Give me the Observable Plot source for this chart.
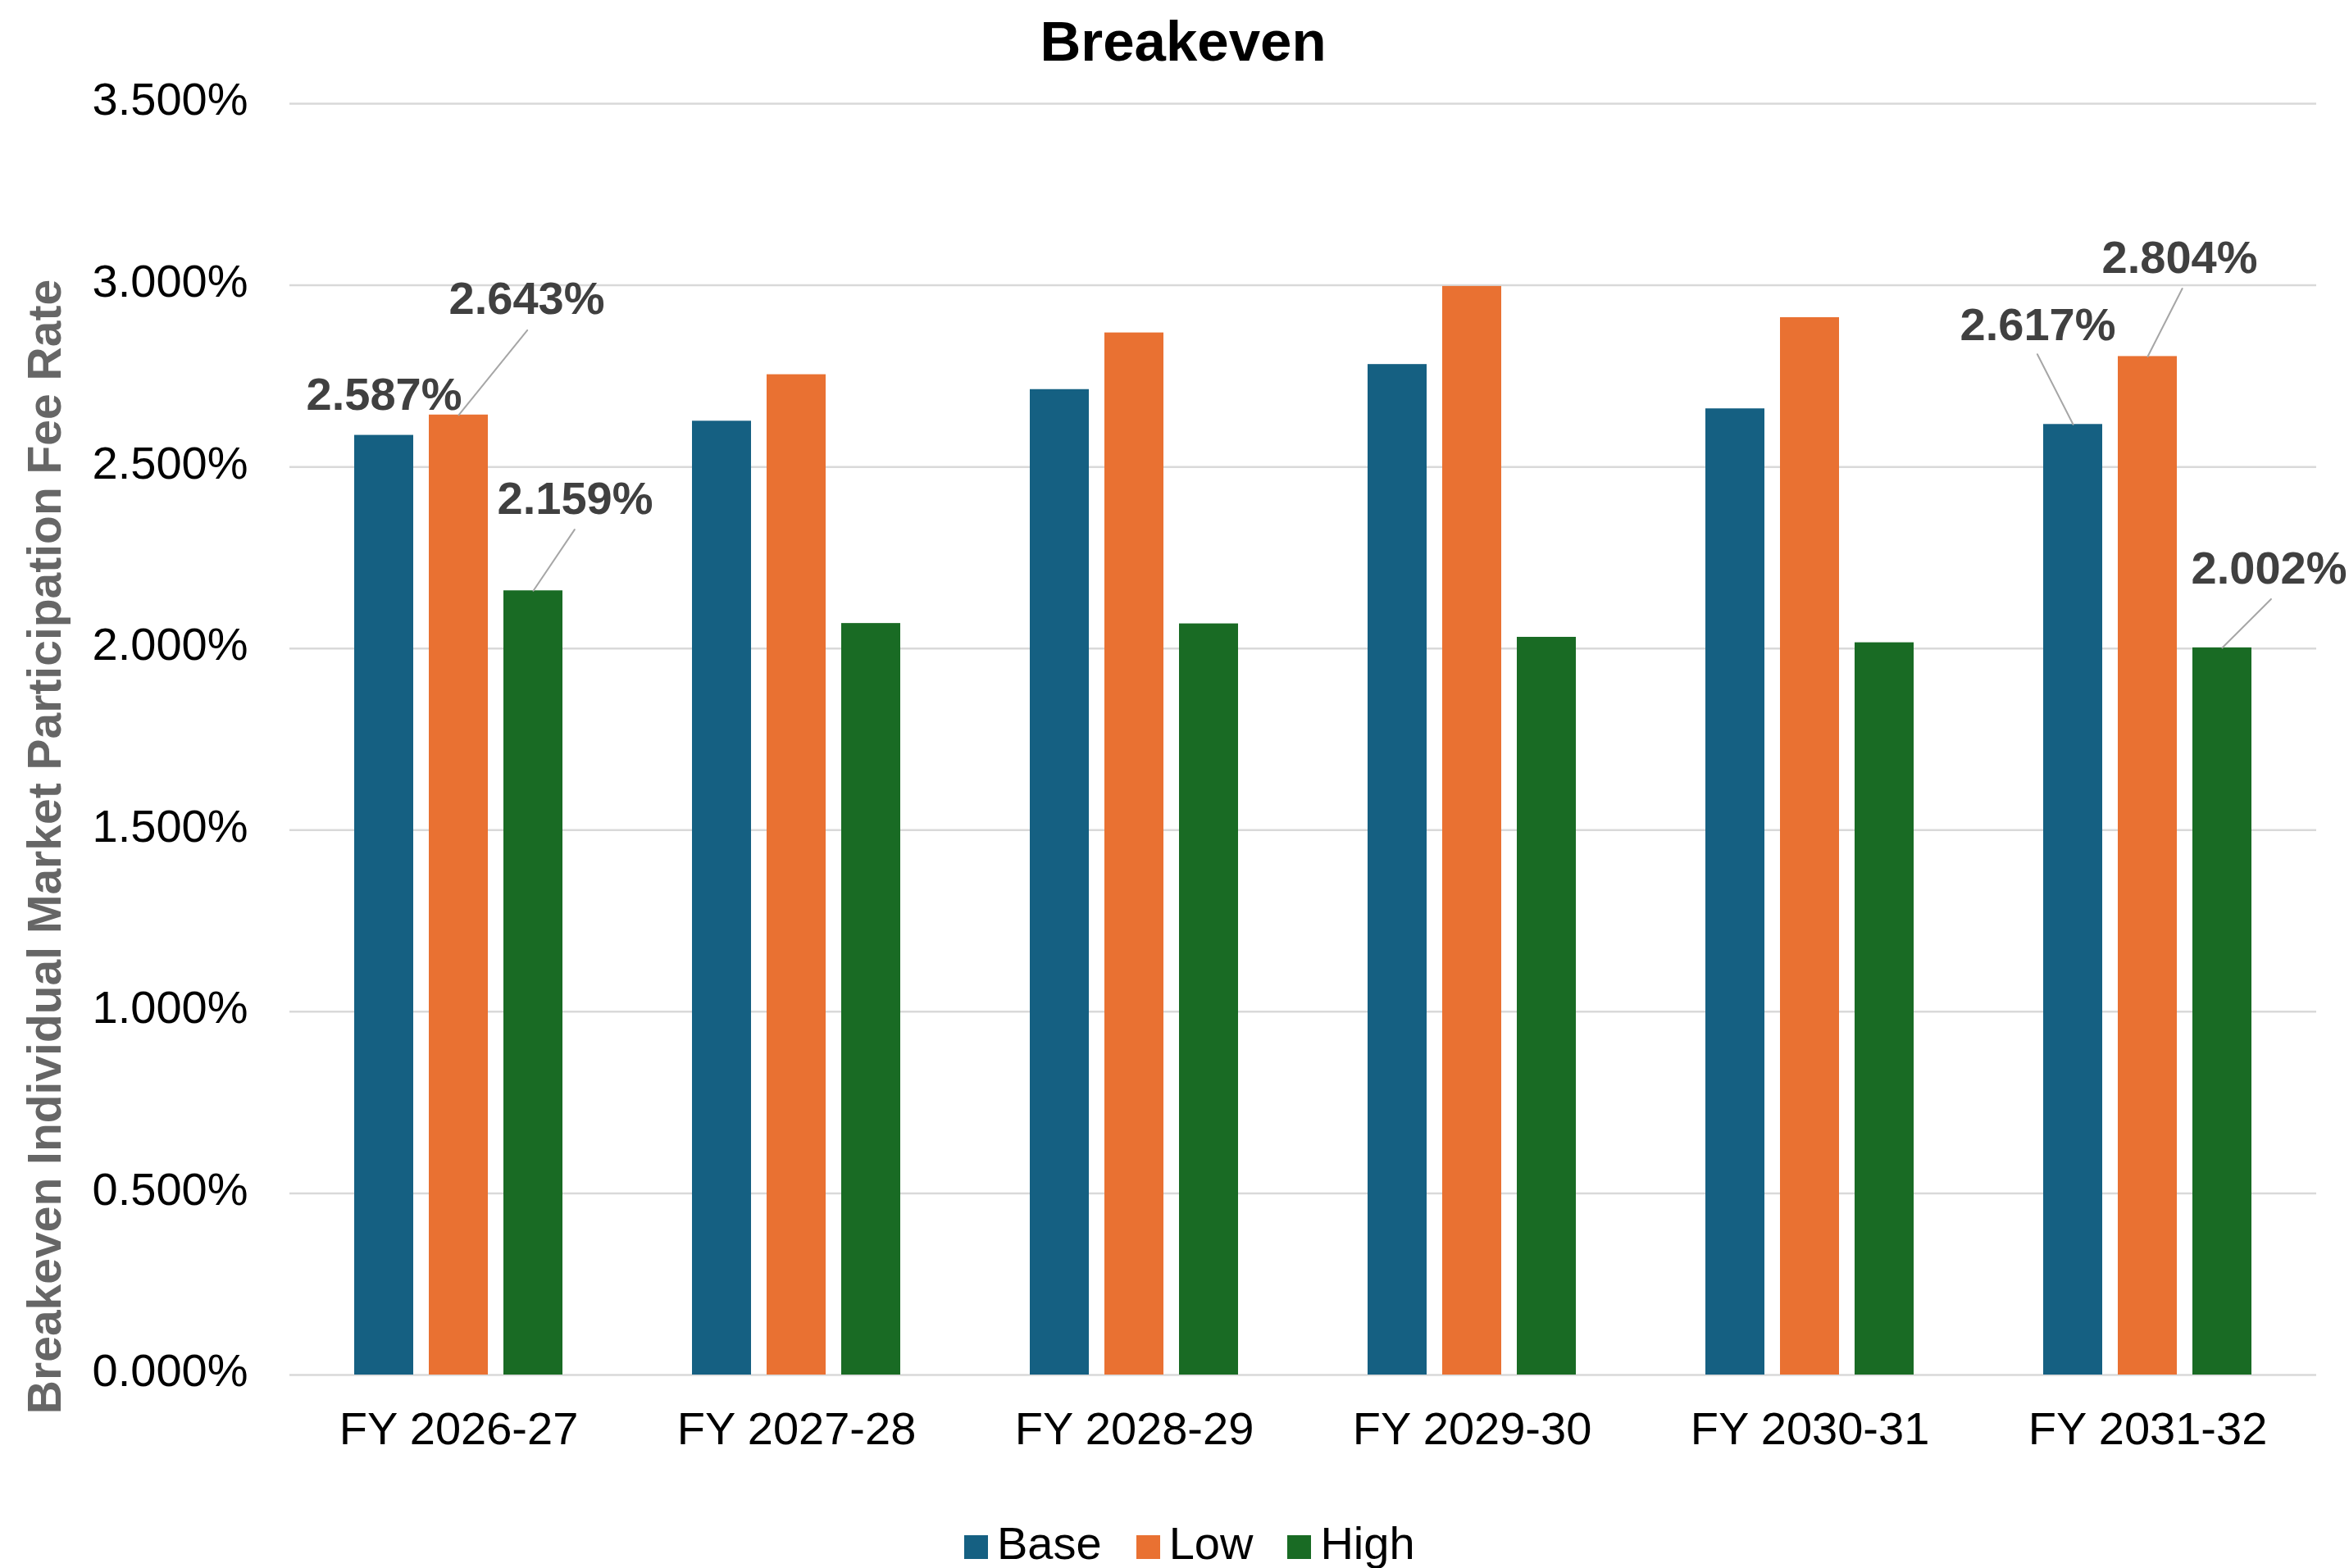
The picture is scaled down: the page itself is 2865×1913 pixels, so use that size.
<!DOCTYPE html>
<html><head><meta charset="utf-8">
<script src="https://cdn.jsdelivr.net/npm/d3@7"></script>
<script src="https://cdn.jsdelivr.net/npm/@observablehq/plot@0.6"></script>
<style>
html,body{margin:0;padding:0;background:#fff;}
#wrap{position:relative;width:2865px;height:1913px;overflow:hidden;font-family:"Liberation Sans",Arial,sans-serif;background:#fff;}
#wrap svg{position:absolute;left:0;top:0;}
#title{position:absolute;left:1443px;top:16px;transform:translateX(-50%);font-size:69px;line-height:69px;font-weight:bold;color:#000;white-space:nowrap;}
#ytitle{position:absolute;left:54px;top:1033px;transform:translate(-50%,-50%) rotate(-90deg);font-size:57px;line-height:57px;font-weight:bold;color:#666666;white-space:nowrap;}
#legend{position:absolute;left:1176px;top:1855px;display:flex;align-items:baseline;font-size:56px;line-height:56px;color:#000;white-space:nowrap;}
.sw{display:inline-block;width:29px;height:29px;margin-right:11px;}
.item{display:flex;align-items:baseline;margin-right:42px;}
</style>
</head>
<body>
<div id="wrap">
  <div id="title"></div>
  <div id="ytitle"></div>
  <div id="legend"></div>
</div>
<script>
// ---- data ----
const chartTitle = "Breakeven";
const yAxisTitle = "Breakeven Individual Market Participation Fee Rate";
const categories = ["FY 2026-27", "FY 2027-28", "FY 2028-29", "FY 2029-30", "FY 2030-31", "FY 2031-32"];
const series = ["Base", "Low", "High"];
const baseValues = [2.587, 2.626, 2.713, 2.782, 2.660, 2.617];
const lowValues  = [2.643, 2.754, 2.869, 2.997, 2.911, 2.804];
const highValues = [2.159, 2.069, 2.068, 2.031, 2.016, 2.002];
const yTicks = [0, 0.5, 1.0, 1.5, 2.0, 2.5, 3.0, 3.5];
const labeledCategories = ["FY 2026-27", "FY 2031-32"];

// ---- styling / placement (not data) ----
const colors = ["#156082", "#E97132", "#196B24"];
const labelPlacement = {
  "FY 2026-27|Base": {dx: 0,   dy: -49,  leader: null},
  "FY 2026-27|Low":  {dx: 83,  dy: -141, leader: [133, 39]},
  "FY 2026-27|High": {dx: 51,  dy: -112, leader: [90, 34]},
  "FY 2031-32|Base": {dx: -43, dy: -121, leader: [96, -27]},
  "FY 2031-32|Low":  {dx: 39,  dy: -120, leader: [93, 27]},
  "FY 2031-32|High": {dx: 57,  dy: -96,  leader: [84, 45]}
};

const seriesValues = [baseValues, lowValues, highValues];
const rows = categories.flatMap((c, i) => series.map((s, j) => ({category: c, series: s, value: seriesValues[j][i]})));
const labelRows = rows.filter(r => labeledCategories.includes(r.category));
const fmt = v => v.toFixed(3) + "%";
const leaderShape = {draw(context, l) { context.moveTo(0, 0); context.lineTo(0, -l); }};

const labelMarks = labelRows.flatMap(r => {
  const p = labelPlacement[r.category + "|" + r.series];
  const marks = [];
  if (p.leader) {
    marks.push(Plot.vector([r], {fx: "category", x: "series", y: "value", anchor: "start",
      length: p.leader[0], rotate: p.leader[1], shape: leaderShape,
      stroke: "#a6a6a6", strokeWidth: 2}));
  }
  marks.push(Plot.text([r], {fx: "category", x: "series", y: "value", text: d => fmt(d.value),
    dx: p.dx, dy: p.dy, fontSize: 56, fontWeight: "bold", fill: "#404040"}));
  return marks;
});

const chart = Plot.plot({
  width: 2865, height: 1913,
  marginTop: 126, marginBottom: 236, marginLeft: 351, marginRight: 38,
  style: {fontFamily: "'Liberation Sans', Arial, sans-serif", background: "transparent", color: "#000"},
  fx: {domain: categories, padding: 0, label: null},
  x: {domain: series, paddingInner: 0.2065, paddingOuter: 0.846, axis: null},
  y: {domain: [0, 3.5], label: null},
  color: {domain: series, range: colors},
  marks: [
    Plot.gridY(yTicks, {stroke: "#d9d9d9", strokeOpacity: 1, strokeWidth: 2.5}),
    Plot.barY(rows, {fx: "category", x: "series", y: "value", fill: "series"}),
    Plot.axisY({ticks: yTicks, tickFormat: fmt, tickSize: 0, tickPadding: 51, fontSize: 56, dy: -4, label: null, fill: "#000"}),
    Plot.axisFx({anchor: "bottom", tickSize: 0, tickPadding: 45, fontSize: 56, label: null, fill: "#000"}),
    ...labelMarks
  ]
});

const wrap = document.getElementById("wrap");
wrap.insertBefore(chart, wrap.firstChild);
document.getElementById("title").textContent = chartTitle;
document.getElementById("ytitle").textContent = yAxisTitle;
const legend = document.getElementById("legend");
series.forEach((s, i) => {
  const item = document.createElement("div");
  item.className = "item";
  const sw = document.createElement("span");
  sw.className = "sw";
  sw.style.background = colors[i];
  const t = document.createElement("span");
  t.textContent = s;
  item.appendChild(sw); item.appendChild(t);
  legend.appendChild(item);
});
</script>
</body></html>
